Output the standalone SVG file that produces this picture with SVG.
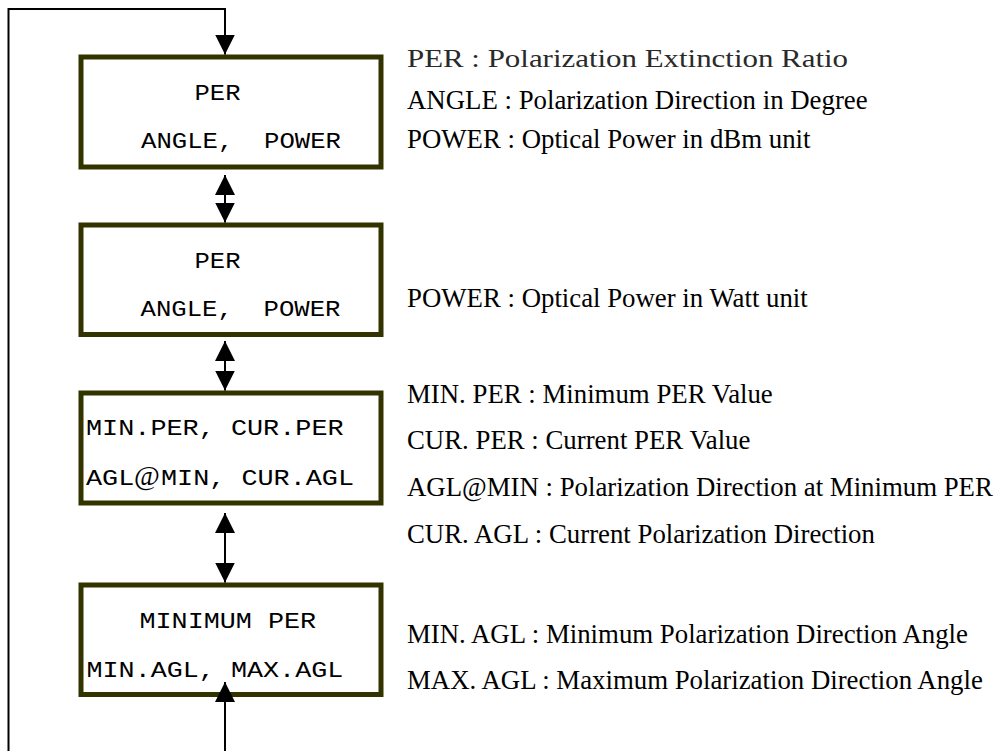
<svg xmlns="http://www.w3.org/2000/svg" width="995" height="751" viewBox="0 0 995 751">
<style>
.box{fill:#ffffff;stroke:#333300;stroke-width:5}
.mono{font-family:"Liberation Mono","Courier New",monospace;font-size:22.5px;fill:#000}
.desc{font-family:"Liberation Serif","Times New Roman",serif;font-size:26.8px;fill:#000}
.desc2{font-family:"Liberation Serif","Times New Roman",serif;font-size:26px;fill:#2a2a2a}
.conn{fill:none;stroke:#000;stroke-width:2}
</style>
<defs>
<marker id="ah" markerUnits="userSpaceOnUse" viewBox="0 0 20 20" markerWidth="20" markerHeight="20" refX="20" refY="10" orient="auto-start-reverse">
<path d="M0,0 L20,10 L0,20 z" fill="#000"/>
</marker>
</defs>
<rect width="995" height="751" fill="#ffffff"/>
<g id="node-per-dbm">
<rect class="box" x="81" y="57" width="300" height="110"/>
<text class="mono" x="194.5" y="100" textLength="46" lengthAdjust="spacingAndGlyphs">PER</text>
<text class="mono" x="141" y="148" textLength="200" lengthAdjust="spacingAndGlyphs" xml:space="preserve">ANGLE,  POWER</text>
</g>
<g id="node-per-watt">
<rect class="box" x="81" y="225" width="300" height="109.5"/>
<text class="mono" x="194.5" y="268" textLength="46" lengthAdjust="spacingAndGlyphs">PER</text>
<text class="mono" x="140.5" y="316" textLength="200" lengthAdjust="spacingAndGlyphs" xml:space="preserve">ANGLE,  POWER</text>
</g>
<g id="node-min-cur">
<rect class="box" x="81" y="393" width="300" height="110"/>
<text class="mono" x="86" y="435" textLength="257.6" lengthAdjust="spacingAndGlyphs">MIN.PER, CUR.PER</text>
<text class="mono" y="485" xml:space="preserve"><tspan x="86" textLength="48.3" lengthAdjust="spacingAndGlyphs">AGL</tspan><tspan x="134" style="font-family:'Liberation Serif',serif;font-size:28px">@</tspan><tspan x="161" textLength="193" lengthAdjust="spacingAndGlyphs">MIN, CUR.AGL</tspan></text>
</g>
<g id="node-minimum">
<rect class="box" x="81" y="585" width="300" height="109.5"/>
<text class="mono" x="139.5" y="628" textLength="176.6" lengthAdjust="spacingAndGlyphs">MINIMUM PER</text>
<text class="mono" x="86.5" y="677" textLength="256.8" lengthAdjust="spacingAndGlyphs">MIN.AGL, MAX.AGL</text>
</g>
<g id="connectors">
<path class="conn" d="M225,682 V770 H8.5 V9 H225 V54.5" marker-start="url(#ah)" marker-end="url(#ah)"/>
<path class="conn" d="M225,175 V222.5" marker-start="url(#ah)" marker-end="url(#ah)"/>
<path class="conn" d="M225,341 V390.5" marker-start="url(#ah)" marker-end="url(#ah)"/>
<path class="conn" d="M225,513 V582.5" marker-start="url(#ah)" marker-end="url(#ah)"/>
</g>
<g id="legend">
<text class="desc2" x="407" y="67" textLength="441" lengthAdjust="spacingAndGlyphs">PER : Polarization Extinction Ratio</text>
<text class="desc" x="407" y="109">ANGLE : Polarization Direction in Degree</text>
<text class="desc" x="407" y="148">POWER : Optical Power in dBm unit</text>
<text class="desc" x="407" y="307">POWER : Optical Power in Watt unit</text>
<text class="desc" x="407" y="403">MIN. PER : Minimum PER Value</text>
<text class="desc" x="407" y="449">CUR. PER : Current PER Value</text>
<text class="desc" x="407" y="496">AGL@MIN : Polarization Direction at Minimum PER</text>
<text class="desc" x="407" y="543">CUR. AGL : Current Polarization Direction</text>
<text class="desc" x="407" y="643">MIN. AGL : Minimum Polarization Direction Angle</text>
<text class="desc" x="407" y="689">MAX. AGL : Maximum Polarization Direction Angle</text>
</g>
</svg>
